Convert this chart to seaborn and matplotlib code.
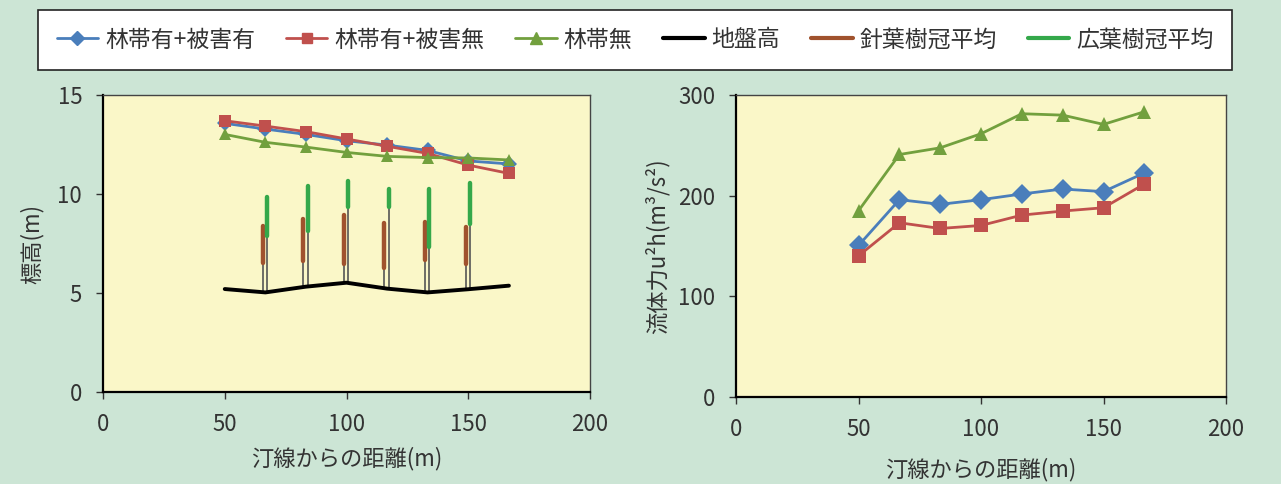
import numpy as np
import pandas as pd
import matplotlib.pyplot as plt
import seaborn as sns
from matplotlib.lines import Line2D

sns.set_style('ticks')
plt.rcParams['font.family'] = ['Noto Sans CJK JP', 'DejaVu Sans']
plt.rcParams['text.color'] = '#333333'
plt.rcParams['axes.labelcolor'] = '#333333'
plt.rcParams['xtick.color'] = '#333333'
plt.rcParams['ytick.color'] = '#333333'

# data
distance = [50, 66.7, 83.3, 100, 116.7, 133.3, 150, 166.7]
series_names = ['林帯有+被害有', '林帯有+被害無', '林帯無']

elev_damaged = [13.57, 13.28, 13.01, 12.69, 12.47, 12.20, 11.67, 11.52]
elev_undamaged = [13.70, 13.43, 13.15, 12.78, 12.41, 12.05, 11.46, 11.04]
elev_noforest = [13.01, 12.61, 12.37, 12.10, 11.90, 11.84, 11.82, 11.72]
ground = [5.20, 5.03, 5.32, 5.52, 5.22, 5.03, 5.19, 5.37]

force_damaged = [150.5, 196, 191.4, 196, 201.7, 206.6, 204, 222.6]
force_undamaged = [140.2, 173.1, 167.4, 170.4, 180.7, 184.7, 188, 211.6]
force_noforest = [185, 240.9, 247.5, 261.5, 281.4, 280, 270.8, 283.4]

# tree crowns at the 6 inner stations
tree_idx = [1, 2, 3, 4, 5, 6]
conifer_top = [8.38, 8.72, 8.92, 8.52, 8.59, 8.35]
conifer_bottom = [6.53, 6.60, 6.46, 6.25, 6.67, 6.46]
broad_top = [9.87, 10.40, 10.66, 10.23, 10.23, 10.54]
broad_bottom = [7.88, 8.15, 9.33, 9.33, 7.34, 8.48]

# styles
colors = ['#4a7ebb', '#c0504d', '#72a03e']
markers = ['D', 's', '^']
brown = '#a0522d'
leaf_green = '#34a84a'
bg = '#cce5d5'
face = '#faf7c8'

elev = pd.DataFrame({'x': distance * 3,
                     'y': elev_damaged + elev_undamaged + elev_noforest,
                     's': sum([[n] * len(distance) for n in series_names], [])})
force = pd.DataFrame({'x': distance * 3,
                      'y': force_damaged + force_undamaged + force_noforest,
                      's': sum([[n] * len(distance) for n in series_names], [])})

fig = plt.figure(figsize=(12.81, 4.84), dpi=100, facecolor=bg)
ax1 = fig.add_axes([103 / 1281, 1 - 392 / 484, 487 / 1281, 297 / 484])
ax2 = fig.add_axes([736 / 1281, 1 - 397 / 484, 490 / 1281, 302 / 484])

# left: elevation profile with trees
ax1.plot(distance, ground, color='black', lw=2.8, solid_capstyle='round', zorder=3)
for k, i in enumerate(tree_idx):
    xc = distance[i] - 1.1
    xb = distance[i] + 0.7
    g = ground[i]
    ax1.plot([xc, xc], [g, conifer_top[k]], color='#555555', lw=1.2, zorder=2)
    ax1.plot([xb, xb], [g, broad_top[k]], color='#555555', lw=1.2, zorder=2)
    ax1.plot([xc, xc], [conifer_bottom[k], conifer_top[k]], color=brown, lw=3.2,
             solid_capstyle='round', zorder=3)
    ax1.plot([xb, xb], [broad_bottom[k], broad_top[k]], color=leaf_green, lw=3.2,
             solid_capstyle='round', zorder=3)

sns.lineplot(data=elev, x='x', y='y', hue='s', style='s', palette=colors,
             markers=markers, dashes=False, markersize=8, markeredgewidth=0,
             linewidth=2, legend=False, ax=ax1, zorder=4)
ax1.set_xlim(0, 200)
ax1.set_ylim(0, 15)
ax1.set_xticks([0, 50, 100, 150, 200])
ax1.set_yticks([0, 5, 10, 15])
ax1.set_xlabel('汀線からの距離(m)', fontsize=16, labelpad=8)
ax1.set_ylabel('標高(m)', fontsize=16, labelpad=10)

# right: hydrodynamic force
sns.lineplot(data=force, x='x', y='y', hue='s', style='s', palette=colors,
             markers=markers, dashes=False, markersize=10, markeredgewidth=0,
             linewidth=2, legend=False, ax=ax2)
ax2.set_xlim(0, 200)
ax2.set_ylim(0, 300)
ax2.set_xticks([0, 50, 100, 150, 200])
ax2.set_yticks([0, 100, 200, 300])
ax2.set_xlabel('汀線からの距離(m)', fontsize=16, labelpad=12)
ax2.set_ylabel('流体力u²h(m³/s²)', fontsize=16, labelpad=6)

for ax in [ax1, ax2]:
    ax.set_facecolor(face)
    for side in ['top', 'right']:
        ax.spines[side].set_visible(True)
        ax.spines[side].set_color('#444444')
        ax.spines[side].set_linewidth(1)
    for side in ['left', 'bottom']:
        ax.spines[side].set_color('black')
        ax.spines[side].set_linewidth(1.6)
    ax.tick_params(labelsize=16, length=5, width=1, pad=10)

handles = [Line2D([], [], color=colors[0], marker='D', markersize=7, lw=2),
           Line2D([], [], color=colors[1], marker='s', markersize=7, lw=2),
           Line2D([], [], color=colors[2], marker='^', markersize=8, lw=2),
           Line2D([], [], color='black', lw=3),
           Line2D([], [], color=brown, lw=3),
           Line2D([], [], color=leaf_green, lw=3)]
labels = series_names + ['地盤高', '針葉樹冠平均', '広葉樹冠平均']
leg = fig.legend(handles, labels, loc='center', ncol=6, mode='expand',
                 bbox_to_anchor=(27 / 1281, 1 - 72 / 484, 1216 / 1281, 64 / 484),
                 fontsize=16.5, frameon=True, fancybox=False, framealpha=1,
                 facecolor='white', handlelength=1.8,
                 handletextpad=0.3, borderpad=0.8)
leg.get_frame().set_edgecolor('#222222')
leg.get_frame().set_linewidth(1.2)

plt.savefig('out.png', dpi=100, facecolor=bg)
